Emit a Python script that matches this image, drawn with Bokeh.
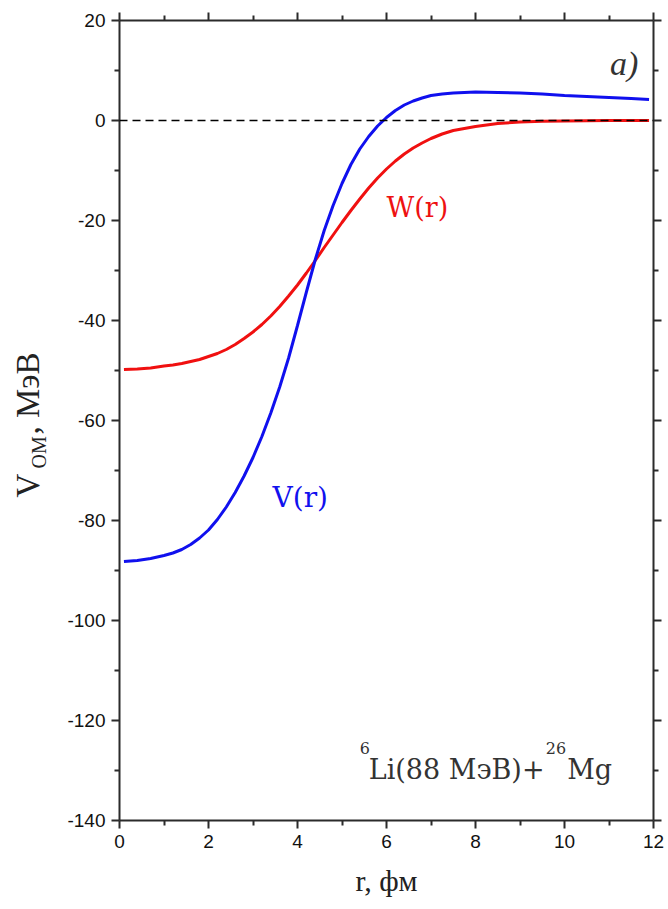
import math
from bokeh.plotting import figure
from bokeh.layouts import row
from bokeh.models import LinearAxis, Range1d, Span, Label, FixedTicker
from bokeh.embed import file_html
from bokeh.resources import INLINE

# Radius, fm
r = [0.1, 0.4, 0.7, 1.0, 1.2, 1.4, 1.6, 1.8, 2.0, 2.2, 2.4, 2.6, 2.8, 3.0,
     3.2, 3.4, 3.6, 3.8, 4.0, 4.2, 4.4, 4.6, 4.8, 5.0, 5.2, 5.4, 5.6, 5.8,
     6.0, 6.2, 6.4, 6.6, 6.8, 7.0, 7.25, 7.5, 8.0, 8.5, 9.0, 9.5, 10.0, 10.5,
     11.0, 11.5, 11.9]

# Real part of the optical potential V(r), MeV
v_real = [-88.2, -88.0, -87.6, -87.0, -86.5, -85.8, -84.8, -83.5, -81.9, -79.8,
          -77.3, -74.4, -71.1, -67.4, -63.2, -58.5, -53.3, -47.5, -41.0, -34.3,
          -27.8, -22.0, -17.0, -12.6, -8.8, -5.7, -3.2, -1.1, 0.6, 2.0, 3.1,
          3.9, 4.5, 5.0, 5.3, 5.5, 5.7, 5.6, 5.5, 5.3, 5.0, 4.8, 4.6, 4.4, 4.2]

# Imaginary part W(r), MeV
w_imag = [-49.8, -49.7, -49.5, -49.1, -48.9, -48.6, -48.2, -47.8, -47.2, -46.6,
          -45.8, -44.8, -43.6, -42.3, -40.8, -39.1, -37.2, -35.1, -32.9, -30.5,
          -28.0, -25.4, -22.9, -20.4, -18.0, -15.7, -13.5, -11.5, -9.7, -8.1,
          -6.7, -5.5, -4.5, -3.6, -2.7, -2.0, -1.2, -0.6, -0.3, -0.15, -0.08,
          -0.04, -0.02, 0.0, 0.0]

x_ticks = [0, 2, 4, 6, 8, 10, 12]
x_minor = [1, 3, 5, 7, 9, 11]
y_ticks = [20, 0, -20, -40, -60, -80, -100, -120, -140]
y_minor = [10, -10, -30, -50, -70, -90, -110, -130]

AXIS_COLOR = "#2b2b2b"
TEXT_COLOR = "#222222"
SANS = "Liberation Sans"
SERIF = "Liberation Serif"
SERIF2 = "DejaVu Serif"

TITLE_W = 60  # width of the strip that carries the y-axis title

p = figure(width=668 - TITLE_W, height=909, x_range=Range1d(0, 12),
           y_range=Range1d(-140, 20), output_backend="svg", toolbar_location=None,
           min_border_left=119 - TITLE_W, min_border_right=15, min_border_top=20,
           min_border_bottom=89)
p.outline_line_color = None
p.grid.visible = False
p.background_fill_color = "white"


def style_axis(ax, ticks, minor, labels=True):
    ax.ticker = FixedTicker(ticks=ticks, minor_ticks=minor)
    ax.major_label_overrides = {t: str(t) for t in ticks}
    ax.axis_line_color = AXIS_COLOR
    ax.axis_line_width = 2
    ax.major_tick_line_color = AXIS_COLOR
    ax.major_tick_line_width = 2
    ax.minor_tick_line_color = AXIS_COLOR
    ax.minor_tick_line_width = 2
    ax.major_tick_in = 0
    ax.major_tick_out = 8
    ax.minor_tick_in = 0
    ax.minor_tick_out = 5
    ax.major_label_text_font = SANS
    ax.major_label_text_font_size = "19px"
    ax.major_label_text_color = "#111111" if labels else None
    ax.major_label_standoff = 6


style_axis(p.xaxis[0], x_ticks, x_minor)
style_axis(p.yaxis[0], y_ticks, y_minor)
p.xaxis[0].axis_label = "r, фм"
p.xaxis[0].axis_label_text_font = SERIF
p.xaxis[0].axis_label_text_font_size = "30px"
p.xaxis[0].axis_label_text_font_style = "normal"
p.xaxis[0].axis_label_text_color = TEXT_COLOR
p.xaxis[0].axis_label_standoff = 13

top = LinearAxis()
style_axis(top, x_ticks, x_minor, labels=False)
p.add_layout(top, "above")
right = LinearAxis()
style_axis(right, y_ticks, y_minor, labels=False)
p.add_layout(right, "right")

# Zero reference line
p.add_layout(Span(location=0, dimension="width", line_color="black",
                  line_width=1.5, line_dash="8 5"))

p.line(r, w_imag, line_color="#f01010", line_width=3)
p.line(r, v_real, line_color="#1010ee", line_width=3)


def label(fig, x, y, text, size, color=TEXT_COLOR, font=SERIF, angle=0.0,
          style="normal", baseline="alphabetic"):
    fig.add_layout(Label(x=x, y=y, text=text, angle=angle, text_font=font,
                         text_font_size=size, text_color=color,
                         text_font_style=style, text_align="left",
                         text_baseline=baseline))


# Panel letter and curve names
label(p, 11.02, 11.4, "a)", "34px", color="#333333", style="italic")
label(p, 6.0, -17.4, "W(r)", "27px", color="#ee1111", font=SERIF2)
label(p, 3.44, -75.4, "V(r)", "28px", color="#1111ee", font=SERIF2)

# Reaction: 6Li(88 МэВ)+26Mg
label(p, 5.4, -125.4, "6", "16px", color="#333333", font=SERIF2)
label(p, 5.6, -129.8, "Li(88 МэВ)+", "27px", color="#333333", font=SERIF2)
label(p, 9.58, -125.4, "26", "16px", color="#333333", font=SERIF2)
label(p, 10.06, -129.8, "Mg", "27px", color="#333333", font=SERIF2)

# Strip on the left holding the rotated y-axis title: V_OM, МэВ
side = figure(width=TITLE_W, height=909, x_range=Range1d(0, TITLE_W),
              y_range=Range1d(-140, 20), output_backend="svg",
              toolbar_location=None, x_axis_type=None, y_axis_type=None,
              min_border_left=0, min_border_right=0, min_border_top=20,
              min_border_bottom=89)
side.outline_line_color = None
side.grid.visible = False
rot = math.pi / 2
label(side, 27, -75.4, "V", "33px", angle=rot, baseline="middle")
label(side, 38, -69.6, "OM", "20px", angle=rot, baseline="middle")
label(side, 27, -62.8, ", МэВ", "33px", angle=rot, baseline="middle")

layout = row(side, p, spacing=0)
open("out.html", "w").write(file_html(layout, INLINE))
